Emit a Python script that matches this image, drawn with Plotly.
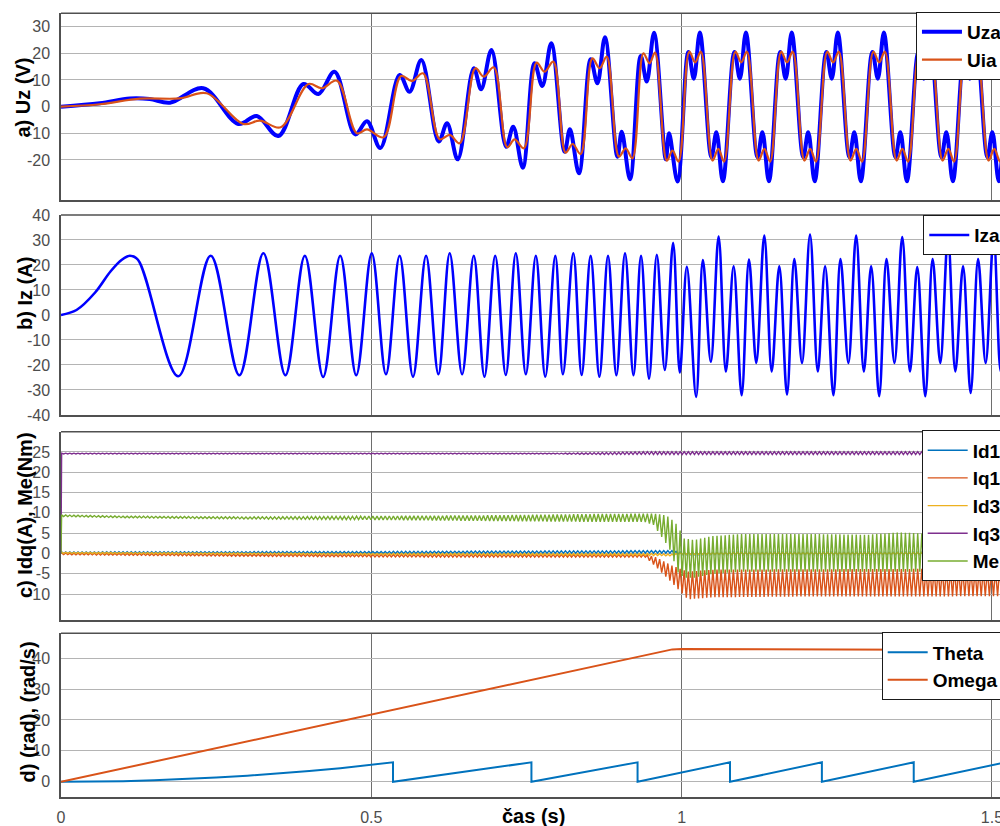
import numpy as np
import plotly.graph_objects as go

# ---------------- data ----------------
# a) Uz (V): extrema of the transient part (time s, value V)
UZA_T = [0, 0.0625, 0.111, 0.143, 0.1755, 0.2292, 0.2857, 0.3154, 0.3503, 0.3906, 0.4149, 0.4407,
         0.4741, 0.4930, 0.5145, 0.5456, 0.5617, 0.5806, 0.6086, 0.6221, 0.6392, 0.6651, 0.6770,
         0.6936, 0.7173, 0.7287, 0.7441, 0.7630, 0.7755, 0.7900, 0.8115, 0.8200, 0.8346, 0.8534,
         0.8643, 0.8765, 0.8965, 0.9035, 0.9169, 0.9341, 0.9438, 0.9556, 0.9745, 0.9798, 0.9934]
UZA_V = [0, 1.25, 3.1, 2.9, 1.5, 6.9, -6.5, -3.5, -11.0, 8.5, 4.75, 13.1,
         -10.4, -5.5, -15.5, 11.9, 5.6, 17.5, -13.1, -6.25, -19.75, 14.4, 6.5,
         21.25, -15.0, -7.5, -22.9, 16.25, 7.75, 23.75, -16.9, -8.5, -25.0, 17.75,
         8.75, 26.0, -18.75, -9.4, -27.25, 19.0, 9.4, 27.75, -19.75, -10.0, -28.1]
UIA_T = [0, 0.0625, 0.1272, 0.1916, 0.2347, 0.2938, 0.3207, 0.3540, 0.3987, 0.4203, 0.4446,
         0.4768, 0.4930, 0.5198, 0.5479, 0.5656, 0.5834, 0.6102, 0.6263, 0.6425, 0.6678, 0.6812,
         0.6973, 0.7190, 0.7308, 0.7458, 0.7663, 0.7792, 0.7932, 0.8131, 0.8244, 0.8373, 0.8562,
         0.8680, 0.8793, 0.8991, 0.9099, 0.9207, 0.9385, 0.9482, 0.9572, 0.9761, 0.9853, 0.9950]
UIA_V = [0, 0.9, 3.0, 3.1, 5.0, -6.5, -5.25, -7.75, 8.5, 6.9, 9.75,
         -10.0, -8.5, -11.5, 11.5, 9.6, 12.5, -12.25, -10.6, -13.75, 14.4, 11.25,
         14.75, -15.25, -12.25, -15.6, 16.5, 13.1, 16.9, -17.25, -14.0, -17.75, 18.1,
         14.4, 18.75, -18.75, -15.6, -19.4, 20.0, 16.25, 20.25, -20.25, -16.5, -20.6]
# steady state: times of the main positive peak of each cycle and one cycle's extrema
UZ_CYCLE_PEAK_T = [1.0294, 1.1036, 1.1774, 1.2517, 1.3259, 1.4000, 1.4741, 1.5482]
UZA_CYCLE_DT = [-0.0186, -0.0097, 0.0, 0.0186, 0.0266, 0.0371]
UZA_CYCLE_V = [20.5, 10.5, 27.8, -19.0, -9.6, -28.0]
UIA_CYCLE_DT = [-0.0170, -0.0076, 0.0016, 0.0205, 0.0297, 0.0390]
UIA_CYCLE_V = [20.6, 16.6, 20.6, -20.2, -15.8, -20.6]

# b) Iz (A): extrema (time s, value A)
IZA_T = [0, 0.025, 0.055, 0.08, 0.098, 0.1109, 0.124, 0.1889, 0.2412, 0.2873, 0.3261, 0.3616, 0.3929,
         0.4224, 0.4499, 0.4757, 0.5007, 0.5236, 0.5456, 0.5672, 0.5882, 0.6081, 0.6263, 0.6463,
         0.6651, 0.6823, 0.6996, 0.7167, 0.7328, 0.7490, 0.7651, 0.7803, 0.7965, 0.8087, 0.8255,
         0.8389, 0.8534, 0.8675, 0.8814, 0.8949, 0.9088, 0.9224, 0.9346, 0.9475, 0.9600, 0.9729,
         0.9863, 0.9971, 1.0084, 1.0234, 1.0342, 1.0471, 1.0596, 1.0713, 1.0838, 1.0967, 1.1085,
         1.1203, 1.1332, 1.1451, 1.1574, 1.1698, 1.1816, 1.1940, 1.2069, 1.2194, 1.2312, 1.2446,
         1.2559, 1.2688, 1.2812, 1.2936, 1.3054, 1.3183, 1.3301, 1.3430, 1.3555, 1.3679, 1.3797,
         1.3926, 1.4044, 1.4168, 1.4292, 1.4410, 1.4535, 1.4657, 1.4777, 1.4899, 1.5028, 1.5141, 1.5266]
IZA_V = [0, 2.0, 9.0, 17.5, 22.1, 23.7, 22.1, -24.5, 23.7, -24.1, 24.7, -24.1, 23.7,
         -24.8, 23.7, -24.1, 24.7, -23.7, 23.7, -24.7, 23.7, -23.7, 24.7, -23.7,
         23.7, -24.7, 23.7, -24.0, 24.7, -23.7, 23.7, -24.7, 23.7, -23.7, 24.7,
         -24.0, 23.7, -24.7, 23.7, -24.1, 24.7, -24.1, 23.7, -25.5, 24.1, -22.0,
         28.9, -23.0, 19.3, -32.8, 22.0, -18.7, 31.4, -22.6, 19.5, -32.1, 22.2,
         -19.2, 31.8, -22.6, 19.5, -31.8, 22.4, -19.2, 32.2, -22.6, 19.5, -32.1,
         22.4, -19.2, 31.8, -22.6, 19.5, -32.5, 22.4, -19.2, 31.2, -22.6, 19.2,
         -32.5, 22.4, -19.2, 31.5, -22.6, 19.5, -31.2, 22.4, -19.2, 31.4, -22.6, 19.5]

# c) Idq (A), Me (Nm): upper / lower envelopes of the rippling signals
ID1_T = [0.001, 0.5, 0.95, 0.985, 1.0, 1.52]
ID1_UP = [0.4, 0.5, 0.7, 0.7, 0.3, 0.3]
ID1_LO = [0.0, 0.0, 0.1, 0.1, -0.3, -0.3]
IQ1_T = [0.001, 0.3, 0.6, 0.9, 0.942, 0.96, 0.983, 1.01, 1.05, 1.2, 1.4, 1.52]
IQ1_UP = [0.1, -0.2, -0.3, -0.3, -0.3, -1.0, -2.9, -4.5, -4.0, -3.9, -3.8, -4.0]
IQ1_LO = [-0.3, -0.7, -0.9, -0.9, -0.9, -3.5, -7.0, -11.3, -10.8, -10.6, -10.6, -10.5]
ID3_T = [0.001, 0.5, 0.95, 0.985, 1.0, 1.52]
ID3_UP = [0.3, 0.0, 0.0, -0.2, 0.2, 0.2]
ID3_LO = [0.0, -0.3, -0.5, -0.6, -0.2, -0.2]
IQ3_T = [0.001, 0.8, 0.85, 0.95, 1.52]
IQ3_UP = [24.7, 24.7, 24.8, 25.1, 25.1]
IQ3_LO = [24.5, 24.5, 24.4, 24.4, 24.4]
ME_T = [0.001, 0.1, 0.3, 0.5, 0.7, 0.85, 0.94, 0.955, 0.966, 0.975, 0.983, 0.993, 1.004,
        1.02, 1.05, 1.1, 1.2, 1.3, 1.35, 1.4, 1.45, 1.52]
ME_UP = [9.5, 9.2, 9.0, 9.2, 9.4, 9.7, 9.8, 9.8, 9.6, 9.4, 8.5, 7.0, 3.7,
         3.3, 4.3, 4.8, 4.8, 4.6, 5.2, 4.8, 4.2, 4.5]
ME_LO = [9.1, 8.8, 8.5, 8.3, 8.0, 7.8, 7.8, 7.0, 4.5, 2.5, 0.4, -4.5, -6.0,
         -6.0, -5.0, -4.5, -4.5, -4.5, -4.5, -4.5, -4.5, -4.5]

# d) Theta (rad), Omega (rad/s)
THETA_T = [0, 0.05, 0.1, 0.15, 0.2, 0.25, 0.3, 0.35, 0.4, 0.45, 0.5, 0.535, 0.535, 0.758, 0.758,
           0.929, 0.929, 0.985, 1.078, 1.078, 1.226, 1.226, 1.374, 1.374, 1.515]
THETA_V = [0, 0.05, 0.22, 0.49, 0.87, 1.36, 1.96, 2.66, 3.48, 4.40, 5.44, 6.3, 0, 6.3, 0,
           6.3, 0, 2.33, 6.3, 0, 6.3, 0, 6.3, 0, 6.0]
OMEGA_T = [0, 0.985, 1.0, 1.2, 1.515]
OMEGA_V = [0, 42.8, 42.9, 42.7, 42.6]

X_TICKS = [0, 0.5, 1, 1.5]
X_TICK_TEXT = ["0", "0.5", "1", "1.5"]
Y_TICKS = [[-20, -10, 0, 10, 20, 30],
           [-40, -30, -20, -10, 0, 10, 20, 30, 40],
           [-10, -5, 0, 5, 10, 15, 20, 25],
           [0, 10, 20, 30, 40]]
Y_RANGES = [[-35, 35], [-40, 40], [-16.4, 30], [-5, 48]]

# ---------------- build curves ----------------
def cycles(t_list, v_list, peaks, dts, vals):
    t = list(t_list)
    v = list(v_list)
    for p in peaks:
        for d, val in zip(dts, vals):
            t.append(p + d)
            v.append(val)
    return t, v

uza_t, uza_v = cycles(UZA_T, UZA_V, UZ_CYCLE_PEAK_T, UZA_CYCLE_DT, UZA_CYCLE_V)
uia_t, uia_v = cycles(UIA_T, UIA_V, UZ_CYCLE_PEAK_T, UIA_CYCLE_DT, UIA_CYCLE_V)

RIPPLE_STEP = 0.0033


def ripple(te, up, lo):
    tz = np.arange(te[0], 1.52, RIPPLE_STEP)
    u = np.interp(tz, te, up)
    l = np.interp(tz, te, lo)
    y = np.where(np.arange(len(tz)) % 2 == 0, u, l)
    return [0.0] + tz.tolist(), [0.0] + y.tolist()

BLUE = "#0000FF"
C1 = "#0072BD"
C2 = "#D95319"
C3 = "#EDB120"
C4 = "#7E2F8E"
C5 = "#77AC30"

fig = go.Figure()
fig.add_trace(go.Scatter(x=uza_t, y=uza_v, name="Uza", mode="lines",
                         line=dict(color=BLUE, width=4, shape="spline", smoothing=1.0),
                         xaxis="x", yaxis="y", legend="legend"))
fig.add_trace(go.Scatter(x=uia_t, y=uia_v, name="Uia", mode="lines",
                         line=dict(color=C2, width=2.2, shape="spline", smoothing=1.0),
                         xaxis="x", yaxis="y", legend="legend"))
fig.add_trace(go.Scatter(x=IZA_T, y=IZA_V, name="Iza", mode="lines",
                         line=dict(color=BLUE, width=2.6, shape="spline", smoothing=1.0),
                         xaxis="x2", yaxis="y2", legend="legend2"))
for name, te, up, lo, col in [("Id1", ID1_T, ID1_UP, ID1_LO, C1),
                              ("Iq1", IQ1_T, IQ1_UP, IQ1_LO, C2),
                              ("Id3", ID3_T, ID3_UP, ID3_LO, C3),
                              ("Iq3", IQ3_T, IQ3_UP, IQ3_LO, C4),
                              ("Me", ME_T, ME_UP, ME_LO, C5)]:
    xt, yt = ripple(te, up, lo)
    fig.add_trace(go.Scatter(x=xt, y=yt, name=name, mode="lines",
                             line=dict(color=col, width=1.4),
                             xaxis="x3", yaxis="y3", legend="legend3"))
fig.add_trace(go.Scatter(x=THETA_T, y=THETA_V, name="Theta", mode="lines",
                         line=dict(color=C1, width=2), xaxis="x4", yaxis="y4", legend="legend4"))
fig.add_trace(go.Scatter(x=OMEGA_T, y=OMEGA_V, name="Omega", mode="lines",
                         line=dict(color=C2, width=2), xaxis="x4", yaxis="y4", legend="legend4"))

FONT = "Liberation Sans, Arial, sans-serif"
TICKFONT = dict(family=FONT, size=16, color="#4d4d4d")
FRAME = "#505050"
XR = [0, 1.513]

domains = [[0.75787, 0.98390], [0.49758, 0.73971], [0.24939, 0.47736], [0.03475, 0.23329]]

layout = dict(width=1000, height=826, margin=dict(l=61, r=0, t=0, b=0, autoexpand=False),
              paper_bgcolor="white", plot_bgcolor="white", showlegend=True)
for i in range(4):
    s = "" if i == 0 else str(i + 1)
    layout["xaxis" + s] = dict(domain=[0, 1], range=XR, anchor="y" + s, tickvals=X_TICKS,
                               ticktext=X_TICK_TEXT, showticklabels=(i == 3), tickfont=TICKFONT,
                               showgrid=True, gridcolor="#6e6e6e", gridwidth=1, zeroline=False,
                               showline=True, linecolor=FRAME, linewidth=1.5, ticks="",
                               ticklabelstandoff=5, ticklabeloverflow="allow")
    if i > 0:
        layout["xaxis" + s]["matches"] = "x"
    layout["yaxis" + s] = dict(domain=domains[i], range=Y_RANGES[i], anchor="x" + s,
                               tickvals=Y_TICKS[i], ticktext=[str(v) for v in Y_TICKS[i]],
                               tickfont=TICKFONT, showgrid=True,
                               gridcolor="#b4b4b4", gridwidth=1, zeroline=False, showline=True,
                               linecolor=FRAME, linewidth=1.5, ticks="", ticklabelstandoff=6)

leg_common = dict(bgcolor="white", bordercolor="#1a1a1a", borderwidth=1,
                  font=dict(family=FONT, size=19, color="black", weight="bold"),
                  xanchor="left", yanchor="top", itemwidth=40, tracegroupgap=0)
layout["legend"] = dict(x=0.9105, y=0.9855, **leg_common)
layout["legend2"] = dict(x=0.9183, y=0.7395, **leg_common)
layout["legend3"] = dict(x=0.9166, y=0.4790, **leg_common)
layout["legend4"] = dict(x=0.8740, y=0.2345, **leg_common)

shapes = []
for i in range(4):
    s = "" if i == 0 else str(i + 1)
    shapes.append(dict(type="line", xref="x" + s + " domain", yref="y" + s + " domain",
                       x0=0, x1=1, y0=1, y1=1, line=dict(color=FRAME, width=1.5), layer="above"))
layout["shapes"] = shapes

TITLE_FONT = dict(family=FONT, size=20, color="black", weight="bold")
titles = [("a) Uz (V)", 23, 97.5), ("b) Iz (A)", 25, 294), ("c) Idq(A), Me(Nm)", 25, 515),
          ("d) (rad), (rad/s)", 27, 712.5)]
ann = []
for text, px, py in titles:
    ann.append(dict(text=text, xref="paper", yref="paper", x=(px - 61) / 939, y=1 - py / 826,
                    xanchor="center", yanchor="middle", textangle=-90, showarrow=False,
                    font=TITLE_FONT))
ann.append(dict(text="čas (s)", xref="paper", yref="paper", x=(533 - 61) / 939, y=1 - 816 / 826,
                xanchor="center", yanchor="middle", showarrow=False, font=TITLE_FONT))
layout["annotations"] = ann

fig.update_layout(**layout)
fig.write_html("out.html", config={"displayModeBar": False},
               post_script="document.body.style.margin='0';document.body.style.overflow='hidden';"
                           "document.documentElement.style.overflow='hidden';")
